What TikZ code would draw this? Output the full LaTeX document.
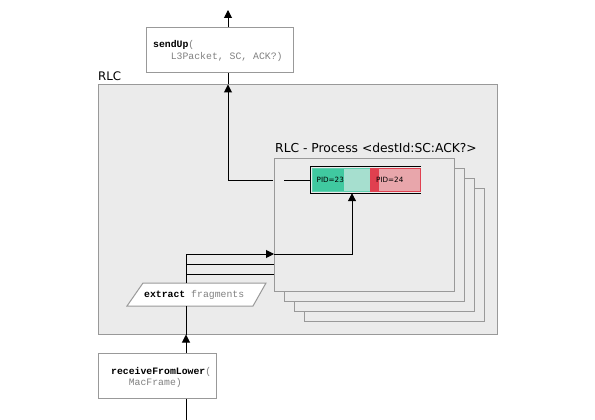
\documentclass[tikz,border=0pt]{standalone}
\usepackage{fontspec}
\setmainfont{DejaVu Sans}
\newfontfamily\monof{Liberation Mono}
\usetikzlibrary{arrows.meta}
\definecolor{rlcfill}{HTML}{EBEBEB}
\definecolor{rlcdraw}{HTML}{999999}
\definecolor{mgray}{HTML}{808080}
\definecolor{gdark}{HTML}{40C9A0}
\definecolor{glight}{HTML}{A6DFCF}
\definecolor{gline}{HTML}{60D0B0}
\definecolor{rdark}{HTML}{E0404F}
\definecolor{rlight}{HTML}{E8A6AB}
\definecolor{rline}{HTML}{E04050}
\begin{document}
\begin{tikzpicture}[x=1pt,y=-1pt,
  conn/.style={draw=black, line width=1pt},
  arr/.style={conn, -{Triangle[length=8pt,width=8pt]}},
  graybox/.style={draw=rlcdraw, fill=rlcfill, line width=1pt, inner sep=0pt},
  whitebox/.style={draw=rlcdraw, fill=white, line width=1pt, inner sep=0pt},
  titletext/.style={inner sep=0pt, font=\fontsize{11.8}{14}\selectfont},
  codetext/.style={inner sep=0pt, align=left, font=\monof\fontsize{9.8}{12}\selectfont},
  pidtext/.style={inner sep=0pt, anchor=west, font=\fontsize{7.2}{8}\selectfont},
]
\fill[white] (0,0) rectangle (595,420);
\useasboundingbox (0,0) rectangle (595,420);

% RLC container
\node[graybox, minimum width=399pt, minimum height=249pt] (rlc) at (297.5,209.5) {};
\node[titletext, anchor=base west] (rlclabel) at (98,81) {RLC};

% sendUp box
\node[whitebox, minimum width=147pt, minimum height=45pt] (send) at (219.5,50.5) {};
\node[codetext, anchor=west] (sendtxt) at (153,51)
  {\textbf{sendUp}\textcolor{mgray}{(}\\\textcolor{mgray}{\phantom{xxx}L3Packet, SC, ACK?)}};

% process stack
\node[graybox, minimum width=180pt, minimum height=133pt] (proc3) at (394,254.5) {};
\node[graybox, minimum width=180pt, minimum height=133pt] (proc2) at (384,244.5) {};
\node[graybox, minimum width=180pt, minimum height=133pt] (proc1) at (374,234.5) {};
\node[graybox, minimum width=180pt, minimum height=133pt] (proc) at (364,224.5) {};
\node[titletext, anchor=base west, font=\fontsize{12.3}{14}\selectfont] (proctitle) at (275,152) {RLC - Process <destId:SC:ACK?>};

% PID queue
\node[minimum width=110pt, minimum height=26pt, inner sep=0pt] (pidbox) at (366,180) {};
\draw[conn] (pidbox.north east) -- (pidbox.north west) -- (pidbox.south west) -- (pidbox.south east);
\node[fill=glight, minimum width=57pt, minimum height=22pt, inner sep=0pt] (pid23) at (341.5,180) {};
\fill[gdark] (pid23.north west) rectangle (344,191);
\draw[gline, line width=1pt] (pid23.north west) rectangle (pid23.south east);
\node[pidtext] (t23) at (316.5,180) {PID=23};
\node[fill=rlight, minimum width=49pt, minimum height=22pt, inner sep=0pt] (pid24) at (395.5,180) {};
\fill[rdark] (pid24.north west) rectangle (379,191);
\draw[rline, line width=1pt] (pid24.north west) rectangle (pid24.south east);
\node[pidtext] (t24) at (376,180) {PID=24};

% extract fragments
\coordinate (exbot) at (186,306);
\coordinate (extop) at (186,283);
\draw[whitebox] (127,306) -- (143,283) -- (266,283) -- (253,306) -- cycle;
\node[codetext, anchor=west] (extract) at (144,295) {\textbf{extract} \textcolor{mgray}{fragments}};

% receiveFromLower box
\node[whitebox, minimum width=118pt, minimum height=45pt] (recv) at (157,375.5) {};
\node[codetext, anchor=west, font=\monof\fontsize{9.8}{11}\selectfont] (recvtxt) at (111,377)
  {\textbf{receiveFromLower}\textcolor{mgray}{(}\\\textcolor{mgray}{\phantom{xxx}MacFrame)}};

% connectors
\coordinate (topend) at (228,10);
\coordinate (upx) at (228,180);
\coordinate (gapL) at (273,180);
\coordinate (gapR) at (284,180);
\coordinate (botend) at (186,420);
\coordinate (in1) at (274,254);
\coordinate (in2) at (274,264);
\coordinate (in3) at (274,274);
\coordinate (turn) at (352,254);

\draw[arr] (send.north -| topend) -- (topend);
\draw[conn] (pidbox.west) -- (gapR);
\draw[arr] (gapL) -- (upx) -- (upx |- rlc.north);
\draw[conn] (upx |- rlc.north) -- (upx |- send.south);

\draw[conn] (recv.south -| botend) -- (botend);
\draw[arr] (recv.north -| botend) -- (botend |- rlc.south);
\draw[conn] (botend |- rlc.south) -- (exbot);

\draw[conn] (extop |- in3) -- (in3);
\draw[conn] (extop |- in2) -- (in2);
\draw[arr] (extop) |- (in1);
\draw[arr] (in1) -- (turn) -- (pidbox.south -| turn);
\end{tikzpicture}
\end{document}
